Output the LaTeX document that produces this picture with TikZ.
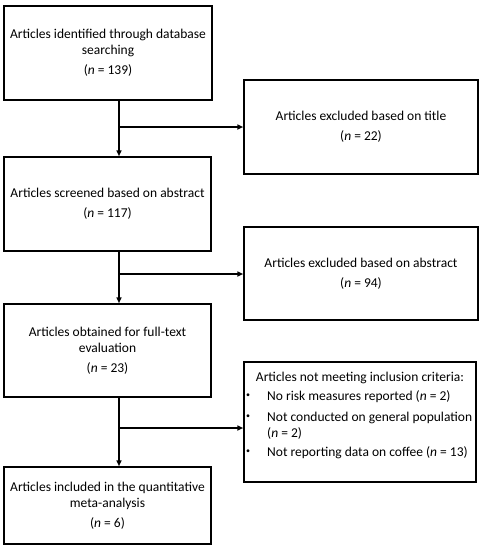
\documentclass[tikz,border=0pt]{standalone}
\usepackage{fontspec}
\setmainfont{Carlito}
\usetikzlibrary{arrows.meta}
\begin{document}
\begin{tikzpicture}[x=1pt,y=-1pt,
  box/.style={draw, line width=1.5pt, inner sep=0pt, align=center,
    font=\fontsize{13.5}{16}\selectfont},
  txt/.style={inner sep=0pt, font=\fontsize{13.5}{16}\selectfont},
  dot/.style={inner sep=0pt, font=\fontsize{8}{8}\selectfont},
  conn/.style={line width=1.6pt, -{Triangle[length=6pt,width=5pt]}}]
\useasboundingbox (0,0) rectangle (484,550);
\node[box, minimum width=208pt, minimum height=94pt] (b1) at (108,53)
  {Articles identified through database\\searching\\[4pt](\textit{n} = 139)};
\node[box, minimum width=234pt, minimum height=94pt] (b2) at (361,127)
  {Articles excluded based on title\\[4pt](\textit{n} = 22)};
\node[box, minimum width=207pt, minimum height=94pt] (b3) at (107.5,204)
  {Articles screened based on abstract\\[4pt](\textit{n} = 117)};
\node[box, minimum width=234pt, minimum height=93pt] (b4) at (361,273.5)
  {Articles excluded based on abstract\\[4pt](\textit{n} = 94)};
\node[box, minimum width=207pt, minimum height=93pt] (b5) at (107.5,350.5)
  {Articles obtained for full-text\\evaluation\\[4pt](\textit{n} = 23)};
\node[box, minimum width=232pt, minimum height=120pt] (b6) at (360,422) {};
\node[box, minimum width=207pt, minimum height=77pt] (b7) at (107.5,505.5)
  {Articles included in the quantitative\\meta-analysis\\[4pt](\textit{n} = 6)};
% box 6 contents
\node[txt, anchor=base] (h6) at (360,381) {Articles not meeting inclusion criteria:};
\node[dot, anchor=base west] (d1) at (246,397) {•};
\node[txt, anchor=base west] (t1) at (267,400) {No risk measures reported (\textit{n} = 2)};
\node[dot, anchor=base west] (d2) at (246,418) {•};
\node[txt, anchor=base west] (t2) at (267,421) {Not conducted on general population};
\node[txt, anchor=base west] (t2b) at (267,437) {(\textit{n} = 2)};
\node[dot, anchor=base west] (d3) at (246,453) {•};
\node[txt, anchor=base west] (t3) at (267,456) {Not reporting data on coffee (\textit{n} = 13)};
% junctions
\coordinate (j1) at (119,127);
\coordinate (j2) at (119,274);
\coordinate (j3) at (119,428);
\draw[conn] (b1.south -| j1) -- (b3.north -| j1);
\draw[conn] (j1) -- (b2.west |- j1);
\draw[conn] (b3.south -| j2) -- (b5.north -| j2);
\draw[conn] (j2) -- (b4.west |- j2);
\draw[conn] (b5.south -| j3) -- (b7.north -| j3);
\draw[conn] (j3) -- (b6.west |- j3);
\end{tikzpicture}
\end{document}
